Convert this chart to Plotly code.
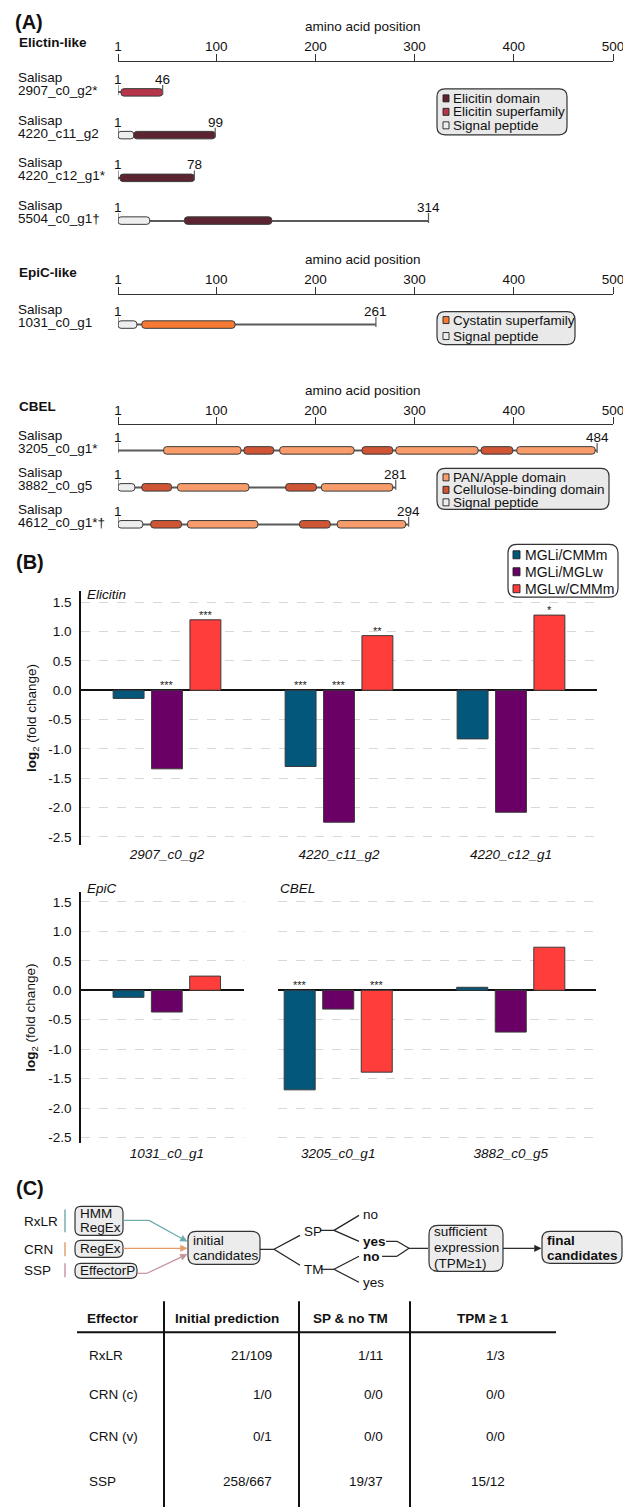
import math
import plotly.graph_objects as go

# ---------------- DATA ----------------
# Panel A: protein architectures (amino acid positions)
elic_ids = ["2907_c0_g2*", "4220_c11_g2", "4220_c12_g1*", "5504_c0_g1\u2020"]
elic_len = [46, 99, 78, 314]
elic_sp_row, elic_sp_start, elic_sp_end = [1, 3], [1, 1], [17, 33]
elic_dom_row, elic_dom_start, elic_dom_end = [1, 2, 3], [17, 3, 68], [99, 78, 156]
elic_sf_row, elic_sf_start, elic_sf_end = [0], [4], [46]

epic_ids = ["1031_c0_g1"]
epic_len = [261]
epic_sp_row, epic_sp_start, epic_sp_end = [0], [1], [20]
epic_cys_row, epic_cys_start, epic_cys_end = [0], [25], [119]

cbel_ids = ["3205_c0_g1*", "3882_c0_g5", "4612_c0_g1*\u2020"]
cbel_len = [484, 281, 294]
cbel_sp_row, cbel_sp_start, cbel_sp_end = [1, 2], [1, 1], [18, 26]
cbel_pan_row = [0, 0, 0, 0, 1, 1, 2, 2]
cbel_pan_start = [47, 164, 281, 403, 61, 206, 71, 222]
cbel_pan_end = [125, 239, 364, 482, 133, 278, 142, 291]
cbel_cbd_row = [0, 0, 0, 1, 1, 2, 2]
cbel_cbd_start = [128, 247, 367, 25, 170, 34, 184]
cbel_cbd_end = [158, 278, 399, 55, 201, 65, 215]

aa_ticks = [1, 100, 200, 300, 400, 500]

# Panel B: log2 fold changes
comparisons = ["MGLi/CMMm", "MGLi/MGLw", "MGLw/CMMm"]
elic_cats = ["2907_c0_g2", "4220_c11_g2", "4220_c12_g1"]
elic_v1 = [-0.14, -1.30, -0.83]
elic_v2 = [-1.34, -2.25, -2.08]
elic_v3 = [1.20, 0.93, 1.28]
elic_s1 = ["", "***", ""]
elic_s2 = ["***", "***", ""]
elic_s3 = ["***", "**", "*"]

epic_cats = ["1031_c0_g1"]
epic_v1 = [-0.12]
epic_v2 = [-0.37]
epic_v3 = [0.24]
epic_s1, epic_s2, epic_s3 = [""], [""], [""]

cbel_cats = ["3205_c0_g1", "3882_c0_g5"]
cbel_v1 = [-1.69, 0.05]
cbel_v2 = [-0.32, -0.71]
cbel_v3 = [-1.39, 0.73]
cbel_s1 = ["***", ""]
cbel_s2 = ["", ""]
cbel_s3 = ["***", ""]

fc_ticks = [-2.5, -2.0, -1.5, -1.0, -0.5, 0.0, 0.5, 1.0, 1.5]
fc_ticktext = ["-2.5", "-2.0", "-1.5", "-1.0", "-0.5", "0.0", "0.5", "1.0", "1.5"]

# Panel C: table
tbl_headers = ["Effector", "Initial prediction", "SP & no TM", "TPM \u2265 1"]
tbl_effector = ["RxLR", "CRN (c)", "CRN (v)", "SSP"]
tbl_initial = ["21/109", "1/0", "0/1", "258/667"]
tbl_sp_no_tm = ["1/11", "0/0", "0/0", "19/37"]
tbl_tpm = ["1/3", "0/0", "0/0", "15/12"]

# ---------------- STYLE ----------------
W, H = 623, 1509
FONT = "Liberation Sans, Arial, sans-serif"
C_ELIC_DOM = "#5c2431"
C_ELIC_SF = "#b5364b"
C_SP = "#eeeeee"
C_CYS = "#f77a34"
C_PAN = "#f99c6c"
C_CBD = "#cf5535"
C_OUT = "#3a3a3a"
CMP_COLORS = ["#02577a", "#6a0066", "#ff3d3a"]


def X(p):
    return p / W


def Y(p):
    return 1 - p / H


shapes = []
annos = []


def text(x, y, s, size=13.5, anchor="left", color="#111", yanchor="middle", angle=0):
    annos.append(dict(x=X(x), y=Y(y), xref="paper", yref="paper", text=s, showarrow=False,
                      xanchor=anchor, yanchor=yanchor, textangle=angle,
                      font=dict(size=size, color=color, family=FONT)))


def seg(x0, y0, x1, y1, color="#222", w=1.2):
    shapes.append(dict(type="line", xref="paper", yref="paper", x0=X(x0), y0=Y(y0),
                       x1=X(x1), y1=Y(y1), line=dict(color=color, width=w)))


def pth(points, fill, lc, w):
    d = "M " + " L ".join(f"{X(a):.5f},{Y(b):.5f}" for a, b in points) + " Z"
    shapes.append(dict(type="path", xref="paper", yref="paper", path=d,
                       fillcolor=fill, line=dict(color=lc, width=w)))


def rbox(x0, y0, x1, y1, r=6, fill="#ececec", lc="#333", w=1.2):
    def p(x, y):
        return f"{X(x):.5f},{Y(y):.5f}"
    path = (f"M {p(x0 + r, y0)} L {p(x1 - r, y0)} Q {p(x1, y0)} {p(x1, y0 + r)} "
            f"L {p(x1, y1 - r)} Q {p(x1, y1)} {p(x1 - r, y1)} L {p(x0 + r, y1)} "
            f"Q {p(x0, y1)} {p(x0, y1 - r)} L {p(x0, y0 + r)} Q {p(x0, y0)} {p(x0 + r, y0)} Z")
    shapes.append(dict(type="path", xref="paper", yref="paper", path=path,
                       fillcolor=fill, line=dict(color=lc, width=w)))


def rect(x0, y0, x1, y1, fill, lc="#222", w=0.9):
    shapes.append(dict(type="rect", xref="paper", yref="paper", x0=X(x0), y0=Y(y0),
                       x1=X(x1), y1=Y(y1), fillcolor=fill, line=dict(color=lc, width=w)))


def arrow(xt, yt, xh, yh, color="#222"):
    L = math.hypot(xh - xt, yh - yt)
    ux, uy = (xh - xt) / L, (yh - yt) / L
    hl, hw = 6.5, 3.2
    bx, by = xh - ux * hl, yh - uy * hl
    seg(xt, yt, bx, by, color)
    pth([(xh, yh), (bx - uy * hw, by + ux * hw), (bx + uy * hw, by - ux * hw)], color, color, 0.5)


fig = go.Figure()
layout_axes = {}

# ---------------- PANEL A ----------------
# geometry: axis line y, first row y, row pitch, bottom of area (px)
geomA = {1: (62, 92.5, 42.8, 245), 2: (295, 325, 42.8, 350), 3: (426, 451, 37.0, 540)}


def add_group(k, ids, lengths, domain_sets):
    ax_line, row0, pitch, bottom = geomA[k]
    xa = "x" if k == 1 else f"x{k}"
    ya = "y" if k == 1 else f"y{k}"
    rows = list(range(len(ids)))
    # backbone
    fig.add_trace(go.Bar(y=rows, x=[L - 1 for L in lengths], base=[1] * len(lengths),
                         orientation="h", width=1.3 / pitch, offset=-0.65 / pitch,
                         marker=dict(color="#5a5a5a", line=dict(width=0)),
                         xaxis=xa, yaxis=ya, showlegend=False, hoverinfo="skip"))
    bh = 7.5 / pitch
    for drow, dstart, dend, col in domain_sets:
        fig.add_trace(go.Bar(y=drow, x=[e - s for s, e in zip(dstart, dend)], base=dstart,
                             orientation="h", width=bh, offset=-bh / 2,
                             marker=dict(color=col, line=dict(color=C_OUT, width=1), cornerradius=3),
                             xaxis=xa, yaxis=ya, showlegend=False, hoverinfo="skip"))
    tx, ty = [], []
    for r, L in zip(rows, lengths):
        for v in (1, L):
            tx += [v, v, None]
            ty += [r - 7.5 / pitch, r + 2.5 / pitch, None]
            annos.append(dict(x=v, y=r, xref=xa, yref=ya, text=str(v), showarrow=False,
                              yshift=13, font=dict(size=13.5, color="#111", family=FONT)))
        annos.append(dict(x=X(16), y=r, xref="paper", yref=ya, text="Salisap", showarrow=False,
                          xanchor="left", yshift=15, font=dict(size=13.5, color="#111", family=FONT)))
        annos.append(dict(x=X(16), y=r, xref="paper", yref=ya, text=ids[r], showarrow=False,
                          xanchor="left", yshift=2, font=dict(size=13.5, color="#111", family=FONT)))
    fig.add_trace(go.Scatter(x=tx, y=ty, mode="lines", line=dict(color="#5a5a5a", width=1.2),
                             xaxis=xa, yaxis=ya, showlegend=False, hoverinfo="skip"))
    xname = "xaxis" if k == 1 else f"xaxis{k}"
    yname = "yaxis" if k == 1 else f"yaxis{k}"
    layout_axes[xname] = dict(domain=[X(118), X(613.3)], range=[1, 500.3], anchor=ya, side="top",
                              tickvals=aa_ticks, ticks="outside", ticklen=7, tickcolor="#333",
                              showline=True, linecolor="#333", linewidth=1.2, showgrid=False,
                              zeroline=False, ticklabelstandoff=-3, automargin=False,
                              ticklabeloverflow="allow",
                              tickfont=dict(size=13.5, color="#111", family=FONT))
    layout_axes[yname] = dict(domain=[Y(bottom), Y(ax_line)],
                              range=[(bottom - row0) / pitch, (ax_line - row0) / pitch],
                              anchor=xa, visible=False)
    text(363, ax_line - 35, "amino acid position", 13.5, "center")


add_group(1, elic_ids, elic_len,
          [(elic_sp_row, elic_sp_start, elic_sp_end, C_SP),
           (elic_dom_row, elic_dom_start, elic_dom_end, C_ELIC_DOM),
           (elic_sf_row, elic_sf_start, elic_sf_end, C_ELIC_SF)])
add_group(2, epic_ids, epic_len,
          [(epic_sp_row, epic_sp_start, epic_sp_end, C_SP),
           (epic_cys_row, epic_cys_start, epic_cys_end, C_CYS)])
add_group(3, cbel_ids, cbel_len,
          [(cbel_sp_row, cbel_sp_start, cbel_sp_end, C_SP),
           (cbel_pan_row, cbel_pan_start, cbel_pan_end, C_PAN),
           (cbel_cbd_row, cbel_cbd_start, cbel_cbd_end, C_CBD)])

text(13, 22, "<b>(A)</b>", 20)
text(17, 43, "<b>Elictin-like</b>", 13.5)
text(17, 273, "<b>EpiC-like</b>", 13.5)
text(17, 407, "<b>CBEL</b>", 13.5)


def legend_box(x0, y0, x1, y1, labels, colors, ys, sw=(443, 6, 7), tx=451, size=13.5):
    rbox(x0, y0, x1, y1, r=8, fill="#e9e9e9")
    for lab, col, yy in zip(labels, colors, ys):
        rect(sw[0], yy - sw[2] / 2, sw[0] + sw[1], yy + sw[2] / 2, col)
        text(tx, yy, lab, size)


legend_box(437, 89, 567, 135, ["Elicitin domain", "Elicitin superfamily", "Signal peptide"],
           [C_ELIC_DOM, C_ELIC_SF, C_SP], [98.5, 112, 125.5])
legend_box(437, 312, 575, 345, ["Cystatin superfamily", "Signal peptide"],
           [C_CYS, C_SP], [320.5, 336.5])
legend_box(437, 469, 609, 510, ["PAN/Apple domain", "Cellulose-binding domain", "Signal peptide"],
           [C_PAN, C_CBD, C_SP], [478, 490.5, 503])

# ---------------- PANEL B ----------------
GAP_PX = 38.5


def add_fc(k, cats, vals, sigs, xdom, xrange, ydom, yrange, show_y):
    xa, ya = f"x{k}", f"y{k}"
    for i, (v, s) in enumerate(zip(vals, sigs)):
        fig.add_trace(go.Bar(x=cats, y=v, name=comparisons[i],
                             marker=dict(color=CMP_COLORS[i], line=dict(color=C_OUT, width=1)),
                             xaxis=xa, yaxis=ya, showlegend=False, hoverinfo="skip"))
        for c, vv, ss in zip(cats, v, s):
            if ss:
                annos.append(dict(x=c, y=max(vv, 0), xref=xa, yref=ya, text=ss, showarrow=False,
                                  xshift=(i - 1) * GAP_PX, yshift=5,
                                  font=dict(size=11, color="#222", family=FONT)))
    layout_axes[f"xaxis{k}"] = dict(domain=[X(xdom[0]), X(xdom[1])], range=xrange, anchor=ya,
                                    type="category", categoryarray=cats, tickvals=cats,
                                    ticktext=[f"<i>{c}</i>" for c in cats], showline=False,
                                    ticks="", showgrid=False, zeroline=False,
                                    tickfont=dict(size=13.5, color="#111", family=FONT))
    layout_axes[f"yaxis{k}"] = dict(domain=[Y(ydom[1]), Y(ydom[0])], range=yrange, anchor=xa,
                                    tickvals=fc_ticks, ticktext=fc_ticktext,
                                    showticklabels=show_y, showline=show_y, linecolor="#111",
                                    linewidth=1.6, ticks="", ticklabelstandoff=5,
                                    showgrid=True, gridcolor="#d8d8d8", griddash="dash", gridwidth=1.3,
                                    zeroline=True, zerolinecolor="#111", zerolinewidth=1.6,
                                    tickfont=dict(size=13.5, color="#111", family=FONT))


add_fc(4, elic_cats, [elic_v1, elic_v2, elic_v3], [elic_s1, elic_s2, elic_s3],
       (81, 597), [-0.5, 2.5], (592, 846), [-2.636, 1.687], True)
add_fc(5, epic_cats, [epic_v1, epic_v2, epic_v3], [epic_s1, epic_s2, epic_s3],
       (81, 244), [-0.5, 0.45], (893, 1145), [-2.60, 1.67], True)
add_fc(6, cbel_cats, [cbel_v1, cbel_v2, cbel_v3], [cbel_s1, cbel_s2, cbel_s3],
       (278, 596), [-0.349, 1.494], (893, 1145), [-2.60, 1.67], False)

text(14, 563, "<b>(B)</b>", 20)
text(85, 595, "<i>Elicitin</i>", 13.5)
text(85, 890, "<i>EpiC</i>", 13.5)
text(278, 890, "<i>CBEL</i>", 13.5)
text(32, 719, "<b>log</b><sub>2</sub> (fold change)", 13.5, "center", angle=-90)
text(32, 1019, "<b>log</b><sub>2</sub> (fold change)", 13.5, "center", angle=-90)

rbox(508, 545, 618, 598, r=9, fill="#ffffff")
for lab, col, yy in zip(comparisons, CMP_COLORS, [555.5, 572.5, 589.5]):
    rect(513, yy - 4, 520, yy + 4, col)
    text(523, yy, lab, 14)

# ---------------- PANEL C ----------------
text(14, 1190, "<b>(C)</b>", 20)
C_TEAL, C_ORG, C_PINK = "#6fabab", "#e59a69", "#c4939a"
text(22, 1223, "RxLR")
text(22, 1251, "CRN")
text(22, 1272, "SSP")
seg(65, 1211, 65, 1234, C_TEAL, 1.4)
seg(65, 1244, 65, 1258, C_ORG, 1.4)
seg(65, 1265, 65, 1279, C_PINK, 1.4)

rbox(75, 1208, 123, 1237, r=6)
text(78, 1215, "HMM")
text(78, 1229.5, "RegEx")
rbox(75, 1242, 123, 1259, r=6)
text(78, 1250.5, "RegEx")
rbox(75, 1265, 137, 1280, r=6)
text(78, 1272.5, "EffectorP")

seg(123, 1222, 149, 1222, C_TEAL)
arrow(149, 1222, 187, 1243, C_TEAL)
arrow(123, 1250, 187, 1250, C_ORG)
seg(137, 1275, 147, 1275, C_PINK)
arrow(147, 1275, 187, 1256, C_PINK)

rbox(188, 1233, 260, 1266, r=8)
text(191, 1242, "initial")
text(191, 1257, "candidates")

seg(260, 1251, 274, 1251)
seg(274, 1251, 300, 1237)
seg(274, 1251, 300, 1267)
text(302, 1233, "SP")
text(302, 1271, "TM")
seg(320, 1232, 334, 1232)
seg(334, 1232, 359, 1217)
seg(334, 1232, 359, 1243)
seg(321, 1271, 334, 1271)
seg(334, 1271, 359, 1258)
seg(334, 1271, 359, 1284)
text(361, 1216, "no")
text(361, 1243, "<b>yes</b>")
text(361, 1258, "<b>no</b>")
text(361, 1284, "yes")
seg(386, 1243, 397, 1243)
seg(397, 1243, 409, 1250)
seg(382, 1258, 397, 1258)
seg(397, 1258, 409, 1250)
seg(409, 1250, 428, 1250)

rbox(429, 1227, 503, 1273, r=9)
text(432, 1233.5, "sufficient")
text(432, 1249.5, "expression")
text(432, 1265.5, "(TPM\u22651)")
arrow(503, 1250, 541, 1250)
rbox(542, 1233, 622, 1265, r=8)
text(545, 1242, "<b>final</b>")
text(545, 1257, "<b>candidates</b>")

# table
hdr_x = [113, 227, 350, 482]
for hx, h in zip(hdr_x, tbl_headers):
    text(hx, 1320, f"<b>{h}</b>", 13.5, "center")
seg(77, 1334, 556, 1334, "#111", 2)
for vx in (164, 299, 410):
    seg(vx, 1303, vx, 1509, "#111", 2)
row_y = [1357, 1396, 1438, 1483]
for yy, e, a, b, c in zip(row_y, tbl_effector, tbl_initial, tbl_sp_no_tm, tbl_tpm):
    text(87, yy, e, 13.5, "left")
    text(274, yy, a, 13.5, "right")
    text(385, yy, b, 13.5, "right")
    text(507, yy, c, 13.5, "right")

fig.update_layout(
    width=W, height=H, margin=dict(l=0, r=0, t=0, b=0),
    paper_bgcolor="white", plot_bgcolor="rgba(0,0,0,0)",
    font=dict(family=FONT, size=13.5, color="#111"),
    barmode="group", bargap=0.33, bargroupgap=0.195,
    showlegend=False, hovermode=False,
    shapes=shapes, annotations=annos, **layout_axes,
)

fig.write_html(
    "out.html",
    config={"displayModeBar": False},
    post_script="document.documentElement.style.overflow='hidden';"
                "document.body.style.margin='0';document.body.style.padding='0';"
                "document.body.style.overflow='hidden';",
)
